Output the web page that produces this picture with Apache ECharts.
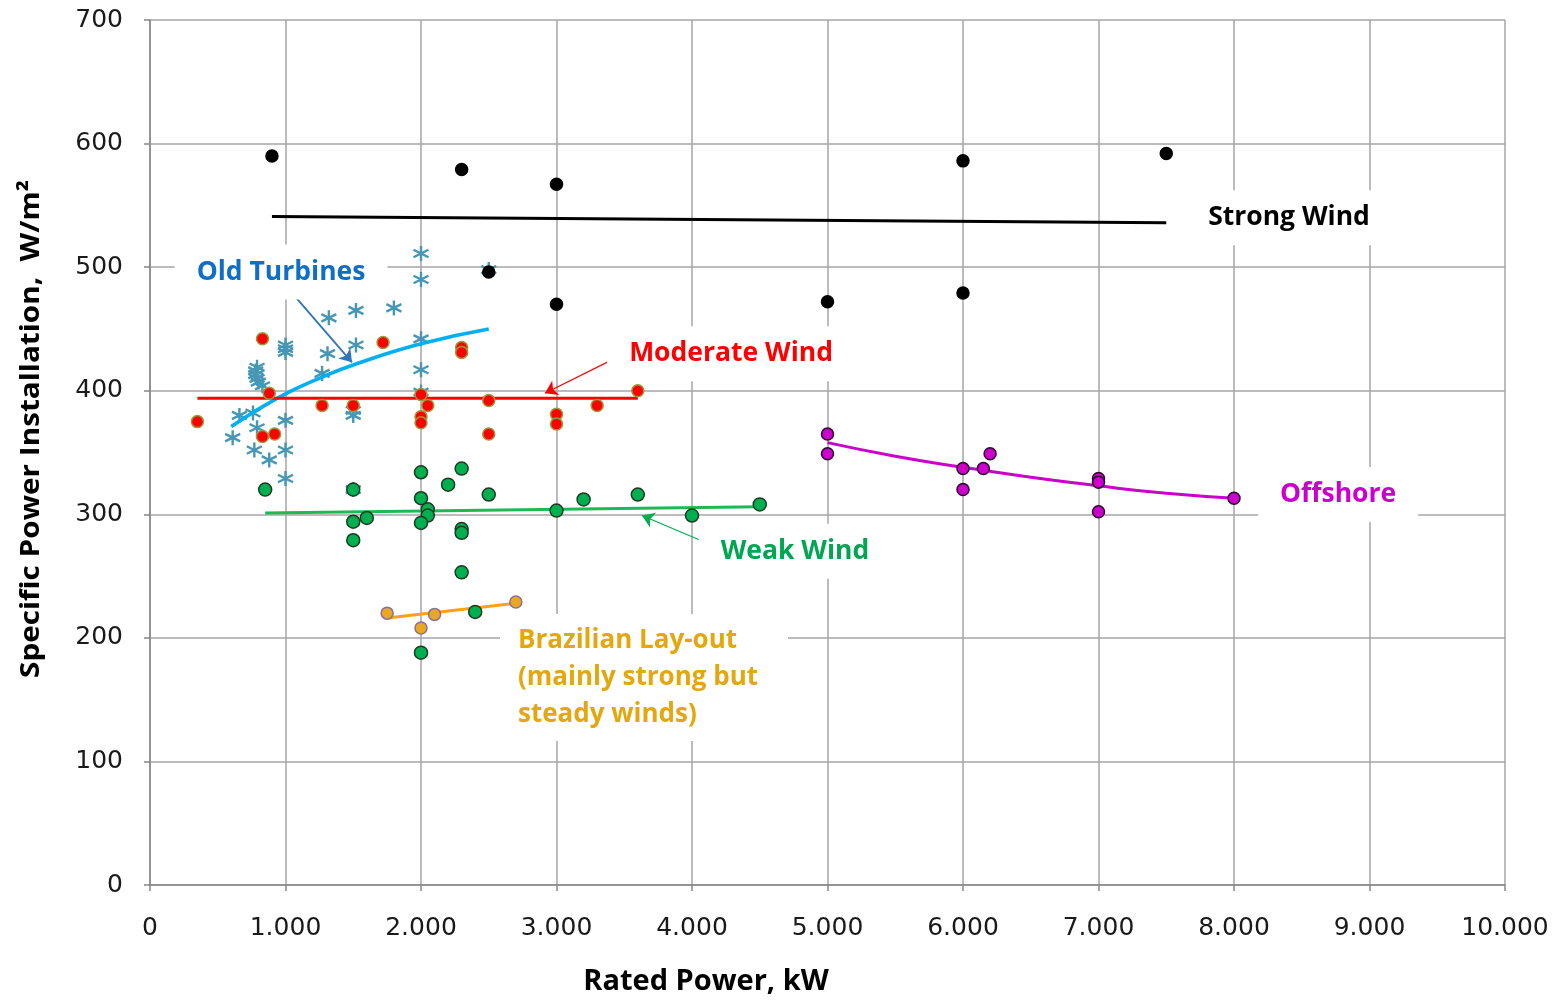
<!DOCTYPE html>
<html>
<head>
<meta charset="utf-8">
<title>Specific Power Installation</title>
<script src="https://cdn.jsdelivr.net/npm/echarts@6/dist/echarts.min.js"></script>
<style>
    html, body { margin: 0; padding: 0; background: #fff; }
    #chart { width: 1557px; height: 1001px; }
</style>
</head>
<body>
<div id="chart"></div>
<script>
// --- data (x = rated power kW, y = W/m2) ---
var oldTurbines = [
    [2000, 511], [2000, 490], [1800, 467], [2000, 442], [2000, 417], [2000, 399], [2500, 498],
    [1320, 459], [1520, 465], [1310, 430], [1520, 437], [1270, 414], [1500, 384], [1500, 380],
    [1000, 437], [1000, 434], [1000, 431], [1000, 376], [1000, 352], [1000, 329],
    [790, 419], [780, 416], [780, 413], [790, 410], [800, 407], [830, 404],
    [660, 380], [760, 382], [610, 362], [790, 370], [770, 352], [880, 344], [1500, 320]
];
var oldTurbinesTrend = [[600, 371], [940, 394], [1270, 411], [1530, 422], [2000, 438], [2500, 450]];

var moderateWind = [
    [350, 375], [830, 442], [880, 398], [830, 363], [920, 365], [1270, 388], [1500, 388],
    [1720, 439], [2000, 397], [2050, 388], [2000, 379], [2000, 374], [2300, 435], [2300, 431],
    [2500, 392], [2500, 365], [3000, 381], [3000, 373], [3300, 388], [3600, 400]
];
var moderateTrend = [[350, 394], [3600, 394]];

var weakWind = [
    [850, 320], [1500, 320], [1500, 294], [1600, 297], [1500, 279], [2000, 334], [2000, 313],
    [2050, 304], [2050, 299], [2000, 293], [2200, 324], [2300, 337], [2500, 316], [2300, 288],
    [2300, 285], [2300, 253], [2400, 221], [2000, 188], [3000, 303], [3200, 312], [3600, 316],
    [4000, 299], [4500, 308]
];
var weakTrend = [[850, 301], [4500, 306]];

var brazilian = [[1750, 220], [2100, 219], [2000, 208], [2700, 229]];
var brazilianTrend = [[1750, 216], [2700, 228]];

var strongWind = [
    [900, 590], [2300, 579], [3000, 567], [2500, 496], [3000, 470], [5000, 472],
    [6000, 586], [6000, 479], [7500, 592]
];
var strongTrend = [[900, 541], [7500, 536]];

var offshore = [
    [5000, 365], [5000, 349], [6000, 337], [6000, 320], [6150, 337], [6200, 349],
    [7000, 329], [7000, 326], [7000, 302], [8000, 313]
];
var offshoreTrend = [[5000, 358], [5500, 347], [6000, 338], [6500, 330], [7000, 323], [7500, 317], [8000, 313]];

// annotation texts, placed in data coordinates
var noteNames = ['Old Turbines', 'Strong Wind', 'Offshore', 'Moderate Wind', 'Weak Wind'];
var notePos = [[967, 496], [8406, 540], [8768, 316], [4288, 430], [4760, 270]];
var noteColors = ['#0f6fc6', '#000000', '#cc00cc', '#ff0000', '#00a651'];
var brazilNote = 'Brazilian Lay-out\n(mainly strong but\nsteady winds)';
var brazilPos = [2583, 168];

// arrows: [from, to, colour]
var arrows = [
    [[1033, 481], [1491, 423], '#2e75b6'],
    [[3483, 429], [2915, 398], '#ff0000'],
    [[4148, 275], [3631, 299], '#00b050']
];

var asterisk = 'path://M0,-10L0,10M-8.7,-5L8.7,5M-8.7,5L8.7,-5';
var labelFont = 'Open Sans';

function dots(name, data, fill, border, size) {
    return {
        name: name,
        type: 'scatter',
        data: data,
        symbol: 'circle',
        symbolSize: size || 13,
        itemStyle: { color: fill, borderColor: border, borderWidth: 1.5, opacity: 1 },
        z: 4
    };
}
function trend(name, data, color, width, smooth) {
    return {
        name: name,
        type: 'line',
        data: data,
        showSymbol: false,
        smooth: !!smooth,
        lineStyle: { color: color, width: width || 3 },
        z: 3
    };
}

var notes = noteNames.map(function (n, i) {
    return {
        name: n,
        value: notePos[i],
        label: {
            show: true,
            position: 'inside',
            formatter: '{b}',
            color: noteColors[i],
            fontFamily: labelFont,
            fontWeight: 'bold',
            fontSize: 26.5,
            backgroundColor: '#fff',
            padding: [14, 22, 14, 22]
        }
    };
});
notes.push({
    name: brazilNote,
    value: brazilPos,
    label: {
        show: true,
        position: 'right',
        distance: 0,
        align: 'left',
        formatter: '{b}',
        color: '#e3a810',
        fontFamily: labelFont,
        fontWeight: 'bold',
        fontSize: 26,
        lineHeight: 37,
        backgroundColor: '#fff',
        padding: [6, 30, 10, 18]
    }
});

var arrowLines = arrows.map(function (a) {
    return [
        { coord: a[0], lineStyle: { color: a[2], width: a[2] === '#2e75b6' ? 1.8 : 1.2, type: 'solid', opacity: 1 } },
        { coord: a[1] }
    ];
});

var option = {
    backgroundColor: '#fff',
    animation: false,
    grid: { left: 150, right: 52, top: 20, bottom: 116 },
    xAxis: {
        type: 'value',
        min: 0,
        max: 10000,
        interval: 1000,
        axisLine: { show: true, lineStyle: { color: '#868686', width: 1.5 } },
        axisTick: { show: true, length: 6, lineStyle: { color: '#868686', width: 1.5 } },
        splitLine: { show: true, lineStyle: { color: '#a6a6a6', width: 1.5 } },
        axisLabel: {
            margin: 31,
            color: '#1a1a1a',
            fontFamily: 'DejaVu Sans',
            fontSize: 25,
            formatter: function (v) { return v === 0 ? '0' : (v / 1000) + '.000'; }
        }
    },
    yAxis: {
        type: 'value',
        min: 0,
        max: 700,
        interval: 100,
        axisLine: { show: true, lineStyle: { color: '#868686', width: 1.5 } },
        axisTick: { show: true, length: 6, lineStyle: { color: '#868686', width: 1.5 } },
        splitLine: { show: true, lineStyle: { color: '#a6a6a6', width: 1.5 } },
        axisLabel: { margin: 27, color: '#1a1a1a', fontFamily: 'DejaVu Sans', fontSize: 25 }
    },
    graphic: [
        {
            type: 'text', x: 706, y: 982,
            style: { text: 'Rated Power, kW', align: 'center', verticalAlign: 'middle',
                     font: 'bold 29px "Open Sans"', fill: '#000' }
        },
        {
            type: 'text', x: 31, y: 429, rotation: Math.PI / 2, scaleX: 1.1,
            style: { text: 'Specific Power Installation,  W/m\u00b2', align: 'center', verticalAlign: 'middle',
                     font: 'bold 27px "Open Sans"', fill: '#000' }
        }
    ],
    series: [
        {
            name: 'Old Turbines',
            type: 'scatter',
            data: oldTurbines,
            symbol: asterisk,
            symbolSize: 15,
            itemStyle: { color: 'none', borderColor: '#4597b5', borderWidth: 2.4, opacity: 1 },
            z: 2
        },
        trend('Old Turbines trend', oldTurbinesTrend, '#00b0f0', 3.5, true),
        dots('Moderate Wind', moderateWind, '#ff0000', '#9a9a3a', 12),
        trend('Moderate trend', moderateTrend, '#ff0000', 3),
        dots('Weak Wind', weakWind, '#00b050', '#1d3a22', 13),
        trend('Weak trend', weakTrend, '#1db954', 3),
        dots('Brazilian', brazilian, '#e8a820', '#8c6f9c', 12),
        trend('Brazilian trend', brazilianTrend, '#ff9f1a', 3),
        dots('Strong Wind', strongWind, '#000000', '#000000', 12),
        trend('Strong trend', strongTrend, '#000000', 3),
        dots('Offshore', offshore, '#cc00cc', '#2a0a2a', 12),
        trend('Offshore trend', offshoreTrend, '#cc00cc', 3, true),
        {
            name: 'notes',
            type: 'scatter',
            data: notes,
            symbolSize: 0,
            silent: true,
            itemStyle: { opacity: 1 },
            z: 5,
            markLine: {
                silent: true,
                symbol: ['none', 'arrow'],
                symbolSize: 12,
                label: { show: false },
                data: arrowLines
            }
        }
    ]
};

var chart = echarts.init(document.getElementById('chart'));
chart.setOption(option);
window.addEventListener('resize', function () { chart.resize(); });
</script>
</body>
</html>
